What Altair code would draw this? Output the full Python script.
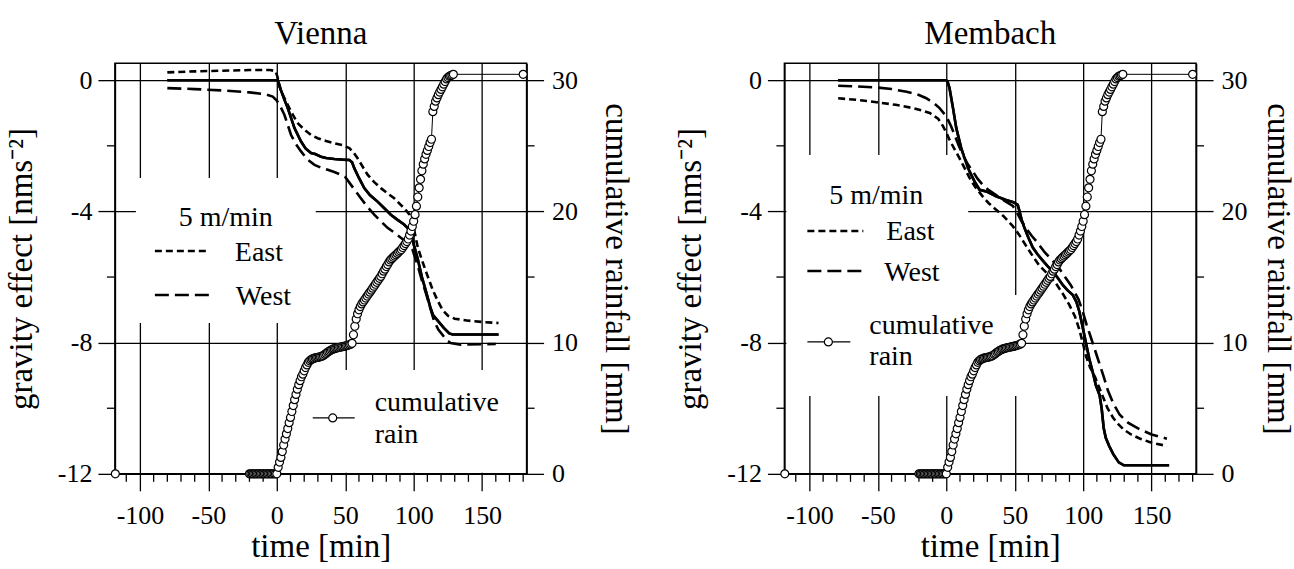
import altair as alt
import pandas as pd

FONT = "Liberation Serif"

# ---------------- data ----------------
# cumulative rain (same record in both panels), mm
rain_t = [-118] + list(range(-20, 130)) + [180]
rain_mm = ([0.0] + [0.0] * 20 + [
    0.0, 0.5, 0.9, 1.25, 1.7, 2.2, 2.65, 3.05, 3.45, 3.9,
    4.3, 4.75, 5.2, 5.65, 6.05, 6.45, 6.8, 7.1, 7.4, 7.6,
    7.85, 8.1, 8.3, 8.5, 8.62, 8.7, 8.76, 8.8, 8.84, 8.86,
    8.88, 8.9, 8.93, 8.97, 9.02, 9.1, 9.18, 9.26, 9.33, 9.4,
    9.45, 9.5, 9.54, 9.57, 9.6, 9.63, 9.65, 9.67, 9.69, 9.71,
    9.74, 9.77, 9.8, 9.84, 9.88, 9.95, 10.6, 11.25, 11.8, 12.2,
    12.5, 12.75, 12.95, 13.1, 13.25, 13.4, 13.55, 13.7, 13.85, 14.0,
    14.15, 14.3, 14.45, 14.6, 14.75, 14.9, 15.05, 15.25, 15.45, 15.6,
    15.8, 15.95, 16.15, 16.3, 16.4, 16.5, 16.6, 16.7, 16.8, 16.9,
    17.0, 17.1, 17.25, 17.4, 17.55, 17.7, 17.9, 18.2, 18.5, 18.85,
    19.25, 19.75, 20.4, 21.1, 21.8, 22.45, 23.1, 23.6, 24.0, 24.35,
    24.65, 24.95, 25.25, 25.5, 27.6, 28.0, 28.4, 28.65, 28.9, 29.1,
    29.3, 29.5, 29.7, 29.9, 30.1, 30.2, 30.3, 30.35, 30.4, 30.45,
] + [30.45])

# Vienna gravity effect, nm/s^2
vie_solid_t = [-80, -40, -5, 0.7, 3, 5.6, 8, 12.9, 17.7, 21, 25, 28, 32.3, 36, 42, 48, 53, 55,
               56.6, 60, 63.9, 68, 73.6, 78, 83.3, 88, 93, 97.9, 100, 102.8, 106, 109, 112,
               114, 118, 122, 126, 128.5, 162]
vie_solid_g = [0.0, 0.0, 0.0, 0.0, -0.3, -0.6, -0.85, -1.46, -1.87, -2.08, -2.22, -2.25, -2.33,
               -2.37, -2.4, -2.42, -2.43, -2.5, -2.68, -2.98, -3.29, -3.5, -3.7, -3.88, -4.1,
               -4.25, -4.4, -4.6, -5.0, -5.42, -6.0, -6.44, -6.9, -7.15, -7.35, -7.55, -7.72,
               -7.75, -7.75]
vie_east_t = [-80, -60, -40, -20, -5, -1, 0.5, 2, 5, 10.4, 15, 20.2, 25, 29.9, 36, 42, 48, 53,
              56, 59, 66.3, 71, 76, 80, 85.8, 93, 97, 100, 103, 107, 110, 114, 117.3, 121, 125,
              130, 140, 150, 162]
vie_east_g = [0.24, 0.27, 0.29, 0.31, 0.31, 0.28, 0.1, -0.2, -0.5, -0.95, -1.3, -1.51, -1.67,
              -1.77, -1.85, -1.92, -1.98, -2.07, -2.2, -2.38, -2.88, -3.1, -3.29, -3.42, -3.6,
              -3.9, -4.1, -4.5, -5.1, -5.6, -5.95, -6.4, -6.7, -7.0, -7.18, -7.27, -7.33,
              -7.37, -7.4]
vie_west_t = [-80, -60, -40, -20, -8, -3, 0, 2, 5.6, 10.4, 14, 17.7, 22, 27.5, 32, 37.2, 42,
              46.9, 50, 54.2, 57, 61.4, 66, 71.2, 76, 80.9, 86, 90.6, 95.5, 99, 102.8, 106,
              110, 115, 118, 121, 124, 127, 134.3, 160]
vie_west_g = [-0.24, -0.27, -0.31, -0.37, -0.43, -0.5, -0.62, -0.75, -1.06, -1.67, -1.95,
              -2.17, -2.4, -2.58, -2.66, -2.73, -2.8, -2.88, -2.95, -3.19, -3.35, -3.6, -3.85,
              -4.1, -4.3, -4.5, -4.65, -4.8, -4.95, -5.15, -5.63, -6.1, -6.64, -7.35, -7.6,
              -7.76, -7.92, -8.01, -8.06, -8.04]

# Membach gravity effect, nm/s^2
mem_solid_t = [-79, -40, 0, 1, 2.4, 4.9, 7.3, 10.9, 15.8, 20.7, 24.3, 29.2, 36.4, 43.7, 49,
               52.2, 53.5, 55, 57.1, 60, 63.2, 66.5, 70.5, 74, 77.8, 81.5, 85.1, 88.5, 92.3,
               95, 97.2, 99, 100.8, 102.5, 104.5, 107, 109.3, 112, 113.5, 115, 116.5, 119,
               122, 126, 129.7, 162.8]
mem_solid_g = [0.0, 0.0, 0.0, -0.05, -0.25, -0.85, -1.46, -2.07, -2.68, -3.09, -3.34, -3.39,
               -3.54, -3.65, -3.72, -3.8, -4.0, -4.25, -4.5, -4.8, -5.1, -5.3, -5.5, -5.67,
               -5.83, -6.03, -6.24, -6.4, -6.54, -6.75, -7.05, -7.4, -7.76, -8.1, -8.5, -8.9,
               -9.3, -9.6, -10.0, -10.6, -10.9, -11.15, -11.4, -11.65, -11.74, -11.74]
mem_east_t = [-79, -65, -51, -37, -24.3, -18, -12.1, -6, -2.4, 0, 2.4, 6, 9.7, 13, 17, 21,
              26.7, 31, 36.4, 42, 48.6, 53, 58.3, 63, 68, 74, 80.2, 85, 89.9, 94, 97.2, 100,
              102, 105, 108.7, 113, 117.7, 122, 126, 129.7, 135, 141.7, 150, 161.2]
mem_east_g = [-0.55, -0.6, -0.67, -0.75, -0.85, -0.92, -1.0, -1.17, -1.4, -1.6, -1.82, -2.1,
              -2.38, -2.65, -2.98, -3.25, -3.55, -3.75, -3.95, -4.15, -4.45, -4.7, -5.05,
              -5.35, -5.65, -5.9, -6.2, -6.5, -6.85, -7.2, -7.6, -8.05, -8.4, -8.75, -9.05,
              -9.5, -9.99, -10.3, -10.5, -10.65, -10.8, -10.93, -11.05, -11.15]
mem_west_t = [-79, -65, -51, -40, -29, -20, -14.6, -9, -4.9, -1, 1.2, 3.5, 6, 9, 12.1, 15.5,
              19.4, 22.8, 26.7, 31, 36.4, 42.6, 48.6, 51.6, 55, 59, 62.5, 66.6, 72, 76.5,
              81.6, 86, 91, 96.6, 100, 102.5, 105.7, 110, 114.7, 118, 122, 126.7, 133, 141.7,
              150, 161.2]
mem_west_g = [-0.17, -0.19, -0.22, -0.27, -0.35, -0.45, -0.55, -0.7, -0.85, -1.05, -1.2, -1.4,
              -1.66, -1.98, -2.27, -2.55, -2.78, -3.0, -3.19, -3.35, -3.5, -3.68, -3.83,
              -4.03, -4.3, -4.55, -4.75, -4.95, -5.25, -5.45, -5.68, -5.95, -6.25, -6.68,
              -7.1, -7.45, -7.85, -8.4, -9.0, -9.45, -9.85, -10.2, -10.45, -10.65, -10.8,
              -10.93]

# axis ticks
x_major = [-100, -50, 0, 50, 100, 150]
x_minor = [-110, -90, -80, -70, -60, -40, -30, -20, -10, 10, 20, 30, 40, 60, 70, 80, 90,
           110, 120, 130, 140, 160, 170, 180]
g_major = [0, -4, -8, -12]
g_minor = [-2, -6, -10]
rain_major = [0, 10, 20, 30]

legend_labels = ["5 m/min", "East", "West", "cumulative", "rain"]
titles = ["Vienna", "Membach"]

# ---------------- chart ----------------
W, H = 412, 411
XDOM = [-118.3, 182.5]
GDOM = [-12, 0.52]
RDOM = [0, 31.3]

xs = alt.Scale(domain=XDOM, nice=False, zero=False)
gs = alt.Scale(domain=GDOM, nice=False, zero=False)
rs = alt.Scale(domain=RDOM, nice=False, zero=False)

X_AXIS = alt.Axis(values=x_major, tickSize=17, grid=True, title="time [min]",
                  labelExpr="'' + datum.value", labelPadding=12, titlePadding=2,
                  labelFlush=False, labelOverlap=False)
G_AXIS = alt.Axis(values=g_major, tickSize=17, grid=True, title="gravity effect [nms⁻²]",
                  labelExpr="'' + datum.value", labelPadding=6, titlePadding=19,
                  labelOverlap=False)


def r_axis(tpad):
    return alt.Axis(orient="right", values=rain_major, tickSize=17, grid=False,
                    title="cumulative rainfall [mm]", labelPadding=8, titlePadding=tpad,
                    labelOverlap=False)


def X():
    return alt.X("t:Q", scale=xs, axis=X_AXIS)


def G():
    return alt.Y("g:Q", scale=gs, axis=G_AXIS)


def one(**kw):
    return pd.DataFrame({k: [v] for k, v in kw.items()})


def line_layer(ts, gv, dash):
    df = pd.DataFrame({"t": ts, "g": gv})
    kw = dict(color="black", strokeWidth=2.6)
    if dash:
        kw["strokeDash"] = dash
    return alt.Chart(df).mark_line(**kw).encode(x=X(), y=G(), order="t:Q")


def text_item(label, x, y, align="left"):
    return alt.Chart(one(label=label)).mark_text(
        align=align, baseline="alphabetic", font=FONT, fontSize=28, color="black"
    ).encode(x=alt.value(x), y=alt.value(y), text="label:N")


def box(x1, x2, y1, y2):
    return alt.Chart(one(k=1)).mark_rect(fill="white", strokeWidth=0).encode(
        x=alt.value(x1), x2=alt.value(x2), y=alt.value(y1), y2=alt.value(y2)
    )


def sample(x1, x2, y, dash=None, width=2.6):
    kw = dict(color="black", strokeWidth=width)
    if dash:
        kw["strokeDash"] = dash
    return alt.Chart(one(k=1)).mark_rule(**kw).encode(
        x=alt.value(x1), x2=alt.value(x2), y=alt.value(y)
    )


def sample_pt(x, y):
    return alt.Chart(one(k=1)).mark_point(
        shape="circle", filled=True, fill="white", stroke="black", strokeWidth=1.2,
        size=64, opacity=1
    ).encode(x=alt.value(x), y=alt.value(y))


def panel(title, solid, east, west, legend, r_tpad):
    xminor = alt.Chart(pd.DataFrame({"t": x_minor})).mark_rule(
        color="black", strokeWidth=1.3).encode(
        x=X(), y=alt.value(H), y2=alt.value(H + 8))
    gminor_l = alt.Chart(pd.DataFrame({"g": g_minor})).mark_rule(
        color="black", strokeWidth=1.3).encode(
        y=G(), x=alt.value(-8), x2=alt.value(0))
    gminor_r = alt.Chart(pd.DataFrame({"g": g_minor})).mark_rule(
        color="black", strokeWidth=1.3).encode(
        y=G(), x=alt.value(W), x2=alt.value(W + 8))

    grav = alt.layer(
        line_layer(*solid, None),
        xminor, gminor_l, gminor_r,
        *legend["boxes"],
        line_layer(*east, [7, 4]),
        line_layer(*west, [14, 6]),
        line_layer(*solid, None),
        *legend["items"],
    )

    rax = r_axis(r_tpad)
    rdf = pd.DataFrame({"t": rain_t, "r": rain_mm})
    rline = alt.Chart(rdf).mark_line(color="black", strokeWidth=1).encode(
        x=X(), y=alt.Y("r:Q", scale=rs, axis=rax), order="t:Q")
    rpts = alt.Chart(rdf).mark_point(
        shape="circle", filled=True, fill="white", stroke="black", strokeWidth=1.2,
        size=64, opacity=1).encode(x=X(), y=alt.Y("r:Q", scale=rs, axis=rax))
    rain = alt.layer(rline, rpts)

    return alt.layer(grav, rain).resolve_scale(y="independent").properties(
        width=W, height=H,
        title=alt.TitleParams(title, fontSize=33, font=FONT, fontWeight="normal",
                              color="black", offset=12, anchor="middle"),
    )


left_legend = {
    "boxes": [box(21, 201, 115, 260), box(183, 410.5, 307, 410)],
    "items": [
        text_item(legend_labels[0], 111, 163, align="center"),
        sample(40, 95, 188, [7, 4]),
        text_item(legend_labels[1], 120, 198),
        sample(40, 95, 232, [14, 6]),
        text_item(legend_labels[2], 121, 242),
        sample(198, 240, 355, None, 1.2),
        sample_pt(218, 355),
        text_item(legend_labels[3], 260, 348),
        text_item(legend_labels[4], 260, 380),
    ],
}
right_legend = {
    "boxes": [box(2, 184, 92, 232), box(2, 237, 232, 333)],
    "items": [
        text_item(legend_labels[0], 92, 141, align="center"),
        sample(23, 79, 168, [7, 4]),
        text_item(legend_labels[1], 102, 177),
        sample(23, 79, 208, [14, 6]),
        text_item(legend_labels[2], 100, 218),
        sample(23, 66, 279, None, 1.2),
        sample_pt(44, 279),
        text_item(legend_labels[3], 85, 271),
        text_item(legend_labels[4], 85, 302),
    ],
}

left = panel(titles[0], (vie_solid_t, vie_solid_g), (vie_east_t, vie_east_g),
             (vie_west_t, vie_west_g), left_legend, 21)
right = panel(titles[1], (mem_solid_t, mem_solid_g), (mem_east_t, mem_east_g),
              (mem_west_t, mem_west_g), right_legend, 13)

chart = alt.hconcat(left, right, spacing=41).properties(
    padding={"left": 4, "right": 0, "top": 17, "bottom": 0},
    background="white",
).configure_view(stroke="black", strokeWidth=1.5).configure_axis(
    domainColor="black", domainWidth=1.5, tickColor="black", tickWidth=1.3,
    gridColor="black", gridWidth=1.3, gridOpacity=1,
    labelFont=FONT, labelFontSize=26, labelColor="black",
    titleFont=FONT, titleFontSize=33, titleFontWeight="normal", titleColor="black",
).configure_title(font=FONT)

chart.save("out.html", embed_options={"renderer": "svg", "actions": False})
